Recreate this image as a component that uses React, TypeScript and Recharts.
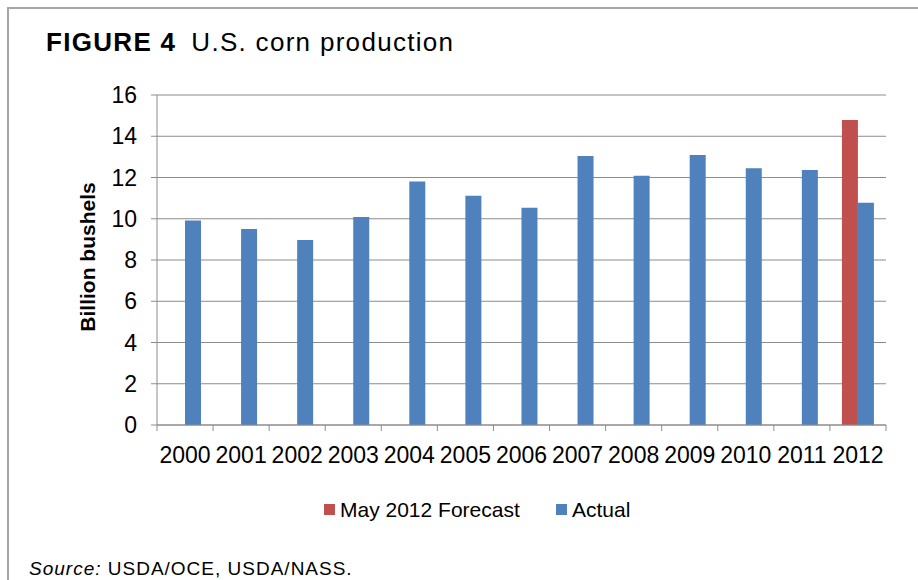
import { BarChart, Bar, XAxis, YAxis, CartesianGrid } from 'recharts';

const years = ['2000', '2001', '2002', '2003', '2004', '2005', '2006', '2007', '2008', '2009', '2010', '2011', '2012'];
const actual = [9.92, 9.5, 8.97, 10.09, 11.81, 11.11, 10.53, 13.04, 12.09, 13.09, 12.45, 12.36, 10.78];
const forecast = [null, null, null, null, null, null, null, null, null, null, null, null, 14.79];
const yTicks = [0, 2, 4, 6, 8, 10, 12, 14, 16];

const data = years.map((year, i) => ({ year, actual: actual[i], forecast: forecast[i] }));

const W = 918;
const H = 580;
const margin = { top: 95, right: 32, left: 97, bottom: 125 };
const Y_AXIS_W = 60;
const X_AXIS_H = 30;
const TICK_SIZE = 6;
const TICK_MARGIN = 16;
const plotW = W - margin.left - margin.right - Y_AXIS_W;
const band = plotW / years.length;

const FONT = "Arial, 'Liberation Sans', sans-serif";
const GRID = '#8c8c8c';
const BLUE = '#4f81bd';
const RED = '#c0504d';

function XTick(props: any) {
  const { x, y, payload, index } = props;
  const axisY = y - TICK_SIZE - TICK_MARGIN;
  const last = index === years.length - 1;
  return (
    <g>
      <line x1={x - band / 2} x2={x - band / 2} y1={axisY} y2={axisY + TICK_SIZE} stroke={GRID} />
      {last && <line x1={x + band / 2} x2={x + band / 2} y1={axisY} y2={axisY + TICK_SIZE} stroke={GRID} />}
      <text x={x} y={y} dy="0.71em" textAnchor="middle" fontSize={23} fill="#000" fontFamily={FONT}>
        {payload.value}
      </text>
    </g>
  );
}

export default function App() {
  return (
    <div style={{ position: 'absolute', left: 0, top: 0, width: W, height: H, background: '#fff', overflow: 'hidden', fontFamily: FONT, color: '#000' }}>
      <div style={{ position: 'absolute', left: 7, top: 7, width: W, height: H, borderTop: '2px solid #a6a6a6', borderLeft: '2px solid #a6a6a6' }} />
      <div style={{ position: 'absolute', left: 46, top: 29, fontSize: 26, lineHeight: '26px', letterSpacing: 1.3, whiteSpace: 'nowrap' }}>
        <b>FIGURE 4</b>
        <span style={{ marginLeft: 15 }}>U.S. corn production</span>
      </div>
      <div style={{ position: 'absolute', left: 0, top: 0 }}>
        <BarChart width={W} height={H} data={data} margin={margin} barGap={0} barSize={16}>
          <CartesianGrid vertical={false} stroke={GRID} />
          <XAxis
            dataKey="year"
            height={X_AXIS_H}
            stroke={GRID}
            tickLine={false}
            tickSize={TICK_SIZE}
            tickMargin={TICK_MARGIN}
            interval={0}
            tick={<XTick />}
          />
          <YAxis
            width={Y_AXIS_W}
            domain={[0, 16]}
            ticks={yTicks}
            stroke={GRID}
            tickSize={TICK_SIZE}
            tickMargin={14}
            tick={{ fill: '#000', fontSize: 23, fontFamily: FONT }}
            interval={0}
          />
          <Bar dataKey="forecast" name="May 2012 Forecast" fill={RED} isAnimationActive={false} />
          <Bar dataKey="actual" name="Actual" fill={BLUE} isAnimationActive={false} />
        </BarChart>
      </div>
      <div style={{ position: 'absolute', left: 88, top: 257, transform: 'translate(-50%, -50%) rotate(-90deg)', fontSize: 21, fontWeight: 'bold', whiteSpace: 'nowrap' }}>
        Billion bushels
      </div>
      <div style={{ position: 'absolute', left: 324, top: 504, width: 11, height: 11, background: RED }} />
      <div style={{ position: 'absolute', left: 340, top: 499, fontSize: 21, lineHeight: '21px', whiteSpace: 'nowrap' }}>May 2012 Forecast</div>
      <div style={{ position: 'absolute', left: 556, top: 504, width: 11, height: 11, background: BLUE }} />
      <div style={{ position: 'absolute', left: 572, top: 499, fontSize: 21, lineHeight: '21px', whiteSpace: 'nowrap' }}>Actual</div>
      <div style={{ position: 'absolute', left: 29, top: 559, fontSize: 19, lineHeight: '19px', letterSpacing: 1, whiteSpace: 'nowrap' }}>
        <i>Source:</i> USDA/OCE, USDA/NASS.
      </div>
    </div>
  );
}
